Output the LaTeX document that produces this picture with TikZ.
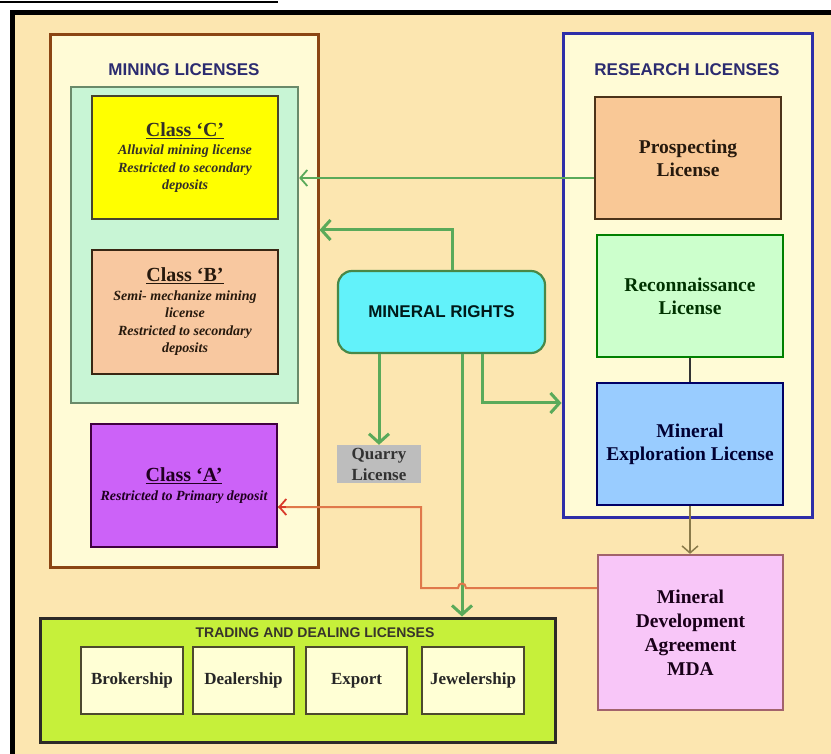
\documentclass[tikz,border=0pt]{standalone}
\usepackage{fontspec}
\setmainfont{Liberation Serif}
\setsansfont{Liberation Sans}
\usetikzlibrary{arrows.meta,calc}
\definecolor{bgc}{HTML}{FCE6B0}
\definecolor{panelc}{HTML}{FFFBD6}
\definecolor{mintc}{HTML}{C8F5D5}
\definecolor{mintb}{HTML}{6A8A6A}
\definecolor{yelc}{HTML}{FFFF00}
\definecolor{peachc}{HTML}{F8C8A0}
\definecolor{purpc}{HTML}{CC62F8}
\definecolor{prospc}{HTML}{F9C896}
\definecolor{reconc}{HTML}{CCFFCC}
\definecolor{exploc}{HTML}{99CCFF}
\definecolor{mdac}{HTML}{F8C6F8}
\definecolor{cyanc}{HTML}{62F2FA}
\definecolor{grayc}{HTML}{BDBDBD}
\definecolor{limec}{HTML}{C6F03A}
\definecolor{creamc}{HTML}{FFFFD5}
\definecolor{brownb}{HTML}{8B4513}
\definecolor{blueb}{HTML}{2E2EA8}
\definecolor{navyt}{HTML}{2B2B70}
\definecolor{greenarr}{HTML}{5AAA5A}
\definecolor{orangel}{HTML}{E0784A}
\definecolor{redarr}{HTML}{D83A2A}
\definecolor{olivearr}{HTML}{8A7A4A}
\tikzset{
  boxbase/.style={draw, line width=2.2pt, inner sep=2pt, align=center},
  seriftxt/.style={font=\fontsize{19.5}{23}\selectfont\bfseries},
  classtxt/.style={font=\fontsize{14}{17.5}\selectfont\bfseries\itshape},
  subbox/.style={boxbase, fill=creamc, draw=black!60!olive, minimum width=101pt, minimum height=67pt, font=\fontsize{17}{20}\selectfont\bfseries, text=black!85},
  headtxt/.style={font=\fontsize{17}{20}\selectfont\sffamily\bfseries, text=navyt},
  garrow/.style={draw=greenarr, line width=3pt, -{Straight Barb[length=9pt,width=20pt]}},
  thinarrow/.style={line width=1.8pt, -{Straight Barb[length=7pt,width=16pt]}},
}
\newcommand{\classtitle}[1]{{\fontsize{20}{22}\selectfont\upshape\underline{#1}}}
\begin{document}
\begin{tikzpicture}[x=1pt,y=-1pt]
\useasboundingbox (0,0) rectangle (831,754);
% background and frame
\fill[bgc] (10,10) rectangle (831,754);
\fill[black] (10,10) rectangle (831,15);
\fill[black] (10,10) rectangle (15,754);
\fill[black] (0,1) rectangle (278,3.5);

% mining licenses
\node[boxbase, draw=brownb, fill=panelc, line width=3pt, minimum width=268pt, minimum height=532pt] (mining) at (184,301) {};
\node[headtxt] (minhead) at (184,70) {MINING LICENSES};
\node[boxbase, draw=mintb, fill=mintc, minimum width=227pt, minimum height=316pt] (inner) at (184.5,245) {};
\node[boxbase, draw=black!65!olive, fill=yelc, minimum width=186pt, minimum height=123pt, classtxt, text=black!85!olive] (classC) at (185,157.5)
  {\classtitle{Class ‘C’}\\[1pt]Alluvial mining license\\Restricted to secondary\\deposits};
\node[boxbase, draw=black!70!brown, fill=peachc, minimum width=186pt, minimum height=124pt, classtxt, text=black!80!brown] (classB) at (185,312)
  {\classtitle{Class ‘B’}\\[1pt]Semi- mechanize mining\\license\\Restricted to secondary\\deposits};
\node[boxbase, draw=black!50!violet, fill=purpc, minimum width=186pt, minimum height=123pt, classtxt, text=black!75!violet] (classA) at (184,485.5)
  {\classtitle{Class ‘A’}\\[1pt]Restricted to Primary deposit};

% research licenses
\node[boxbase, draw=blueb, fill=panelc, line width=3pt, minimum width=249pt, minimum height=483pt] (research) at (687.5,275.5) {};
\node[headtxt] (reshead) at (687,70) {RESEARCH LICENSES};
\node[boxbase, draw=black!60!brown, fill=prospc, minimum width=186pt, minimum height=122pt, seriftxt, text=black!80!brown] (prosp) at (688,158) {Prospecting\\License};
\node[boxbase, draw=black!50!green, fill=reconc, minimum width=186pt, minimum height=122pt, seriftxt, text=black!80!green] (recon) at (690,296) {Reconnaissance\\License};
\node[boxbase, draw=black!60!blue, fill=exploc, minimum width=186pt, minimum height=122pt, seriftxt, text=black!80!blue] (explo) at (690,444) {Mineral\\Exploration License};
\node[boxbase, draw=black!50!magenta!60!brown, fill=mdac, minimum width=185pt, minimum height=155pt, seriftxt, font=\fontsize{19.5}{24}\selectfont\bfseries, text=black!80!violet] (mda) at (690.5,632.5) {Mineral\\Development\\Agreement\\MDA};

% mineral rights and quarry
\node[boxbase, draw=greenarr!80!black, fill=cyanc, rounded corners=14pt, minimum width=207pt, minimum height=82pt, font=\fontsize{17}{20}\selectfont\sffamily\bfseries, text=black!80!teal] (rights) at (441.5,312) {MINERAL RIGHTS};
\node[fill=grayc, minimum width=84pt, minimum height=38pt, inner sep=0pt, align=center, font=\fontsize{17}{21}\selectfont\bfseries, text=black!80] (quarry) at (379,464) {Quarry\\License};

% trading
\node[boxbase, draw=black!90!olive, fill=limec, line width=3pt, minimum width=515pt, minimum height=124pt] (trading) at (297.5,680) {};
\node[font=\fontsize{14}{16}\selectfont\sffamily\bfseries, text=black!80!olive] (tradhead) at (315,633) {TRADING AND DEALING LICENSES};
\node[subbox, minimum width=102pt] (broker) at (132,680.5) {Brokership};
\node[subbox] (dealer) at (243.5,680.5) {Dealership};
\node[subbox] (export) at (356.5,680.5) {Export};
\node[subbox, minimum width=102pt] (jewel) at (473,680.5) {Jewelership};

% connectors
\draw[garrow] ([xshift=10.5pt]rights.north) |- (mining.east |- 0,230);
\draw[garrow] (rights.south -| quarry.north) -- (quarry.north);
\draw[garrow] ([xshift=20.5pt]rights.south) -- ([xshift=20.5pt]rights.south |- trading.north);
\draw[garrow] ([xshift=40.5pt]rights.south) |- (research.west |- 0,403);
\draw[thinarrow, draw=greenarr] ([yshift=-20pt]prosp.west) -- (inner.east |- 0,178);
\draw[line width=1.5pt, draw=black!80] (recon.south) -- (recon.south |- explo.north);
\draw[thinarrow, line width=1.5pt, draw=olivearr] (explo.south) -- (explo.south |- mda.north);
\coordinate (hopR) at (466,588);
\coordinate (hopL) at (458,588);
\coordinate (bendB) at (421,588);
\coordinate (bendT) at (421,507);
\draw[line width=2pt, draw=orangel] ([yshift=44.5pt]mda.west) -- (hopR) .. controls (466,582) and (458,582) .. (hopL) -- (bendB) -- (bendT) -- (classA.east |- bendT);
\draw[thinarrow, draw=redarr, line width=1.8pt] ([xshift=8pt]classA.east |- bendT) -- (classA.east |- bendT);
\end{tikzpicture}
\end{document}
